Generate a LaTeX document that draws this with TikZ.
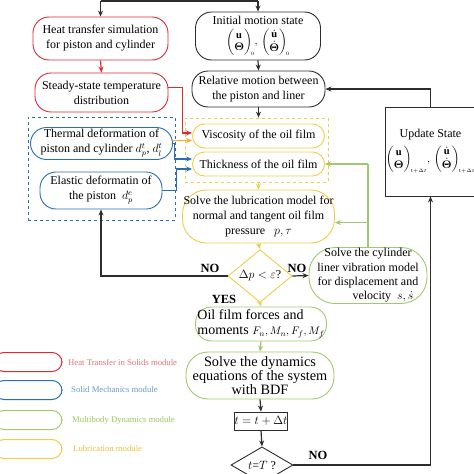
\documentclass[tikz,border=0pt]{standalone}
\usepackage{amsmath}
\usepackage{fontspec}
\setmainfont{Liberation Serif}
\usetikzlibrary{arrows.meta,shapes.geometric,calc}
\definecolor{cred}{RGB}{215,45,55}
\definecolor{cblue}{RGB}{40,110,180}
\definecolor{cgreen}{RGB}{160,200,110}
\definecolor{cyell}{RGB}{240,205,70}
\definecolor{corange}{RGB}{245,175,30}
\definecolor{cblack}{RGB}{45,45,45}
\definecolor{lred}{RGB}{232,110,120}
\definecolor{lblue}{RGB}{110,150,205}
\definecolor{lgreen}{RGB}{150,200,90}
\definecolor{lyell}{RGB}{240,190,60}
\newcommand{\stmat}[1]{{\fontsize{10.5}{12.5}\selectfont$\begin{pmatrix}\mathbf{u}\\ \boldsymbol{\Theta}\end{pmatrix}_{\!\scriptscriptstyle #1}\!,\,\begin{pmatrix}\dot{\mathbf{u}}\\ \dot{\boldsymbol{\Theta}}\end{pmatrix}_{\!\scriptscriptstyle #1}$}}
\begin{document}
\begin{tikzpicture}[x=1pt,y=-1pt,
  box/.style={draw, rounded corners=16pt, align=center, inner sep=0pt, line width=0.9pt, font=\fontsize{12}{15}\selectfont},
  rbox/.style={box, draw=cred},
  bbox/.style={box, draw=cblue},
  gbox/.style={box, draw=cgreen},
  ybox/.style={box, draw=cyell},
  kbox/.style={box, draw=cblack},
  sqbox/.style={draw=cblack, line width=0.9pt, align=center, inner sep=0pt, font=\fontsize{12}{15}\selectfont},
  dia/.style={diamond, draw, inner sep=0pt, line width=0.9pt, font=\fontsize{12}{13}\selectfont},
  arr/.style={-{Stealth[length=6pt,width=5pt]}, line width=1.2pt, draw=cblack},
  ln/.style={line width=1.2pt, draw=cblack},
  redarr/.style={arr, draw=cred},
  bluarr/.style={arr, draw=cblue},
  grnarr/.style={arr, draw=cgreen},
  yelarr/.style={arr, draw=cyell},
  orarr/.style={arr, draw=corange},
  lbl/.style={font=\bfseries\fontsize{12.5}{13}\selectfont, inner sep=0pt},
  legbox/.style={draw, rounded corners=10pt, line width=1pt, minimum width=68pt, minimum height=19pt, inner sep=0pt},
  legtxt/.style={anchor=west, inner sep=0pt, font=\fontsize{8.7}{9}\selectfont}
]
\useasboundingbox (0,0) rectangle (474,474);

% groups
\node[draw=cblue, dashed, line width=0.8pt, minimum width=147pt, minimum height=103pt, inner sep=0pt] (bgrp) at (101.5,168.5) {};
\node[draw=cyell, dashed, line width=0.8pt, minimum width=143pt, minimum height=64pt, inner sep=0pt] (ygrp) at (256.5,150) {};

% nodes
\node[rbox, minimum width=135pt, minimum height=43pt] (heat) at (100.5,38.5) {Heat transfer simulation\\for piston and cylinder};
\node[rbox, minimum width=133pt, minimum height=39pt] (steady) at (101.5,92.5) {Steady-state temperature\\distribution};
\node[bbox, minimum width=142pt, minimum height=32pt] (thermal) at (101.5,143.5) {Thermal deformation of\\piston and cylinder $d_p^t$,\ $d_l^t$};
\node[bbox, minimum width=122pt, minimum height=37pt] (elastic) at (101,190.5) {Elastic deformatin of\\the piston\ \ $d_p^e$};
\node[kbox, minimum width=125pt, minimum height=48pt] (init) at (258,36) {Initial motion state\\[3pt]\stmat{0}};
\node[kbox, minimum width=133pt, minimum height=36pt] (rel) at (258.5,89) {Relative motion between\\the piston and liner};
\node[ybox, minimum width=132pt, minimum height=24pt, rounded corners=12pt] (visc) at (258.5,136) {Viscosity of the oil film};
\node[ybox, minimum width=132pt, minimum height=24pt, rounded corners=12pt] (thick) at (258.5,164) {Thickness of the oil film};
\node[ybox, minimum width=152pt, minimum height=53pt, rounded corners=24pt] (lub) at (258.5,216.5) {Solve the lubrication model for\\normal and tangent oil film\\pressure\ \ \ $p,\tau$};
\node[dia, draw=cyell, minimum width=64pt, minimum height=35pt] (d1) at (260,276) {$\Delta p<\varepsilon$?};
\node[gbox, minimum width=118pt, minimum height=56pt, rounded corners=26pt, font=\fontsize{12}{14.3}\selectfont] (cyl) at (368,275.5) {Solve the cylinder\\liner vibration model\\for displacement and\\\hspace*{2.5em}velocity\ \ $s,\dot{s}$};
\node[gbox, minimum width=131pt, minimum height=34pt, align=left, font=\fontsize{14}{15}\selectfont] (oil) at (261,324) {Oil film forces and\\moments {\fontsize{11}{12}\selectfont$F_n, M_n, F_f, M_f$}};
\node[gbox, minimum width=148pt, minimum height=47pt, rounded corners=22pt, font=\fontsize{14.3}{12.8}\selectfont] (dyn) at (260,375.5) {Solve the dynamics\\equations of the system\\with BDF};
\node[sqbox, minimum width=52pt, minimum height=18pt] (tb) at (261,421) {$t=t+\Delta t$};
\node[dia, draw=cblack, minimum width=62pt, minimum height=36pt] (d2) at (262,465) {$t$=$T$ ?};
\node[sqbox, minimum width=81pt, minimum height=89pt] (upd) at (430.5,151.5) {Update State\\[5pt]\stmat{t+\Delta t}};

% top entry
\coordinate (tl) at (100.5,1);
\coordinate (tr) at (258,1);
\draw[ln] (tl) -- (tr);
\draw[arr] (tl) -- (heat.north);
\draw[arr] (tr) -- (init.north);

% connectors
\draw[redarr] ([yshift=5pt]steady.east) -- ++(14,0) |- ([yshift=3pt]visc.west);
\draw[redarr] (heat.south) -- (steady.north);
\draw[orarr] ([yshift=3pt]thermal.east) -- ([yshift=3pt]thermal.east -| visc.west);
\draw[bluarr] (thermal.east) -- ++(1.5,0) |- ([yshift=5pt]thick.west);
\draw[bluarr] (elastic.east) -- ++(14,0) |- ([yshift=-5pt]thick.west);
\draw[arr] (init.south) -- (rel.north);
\draw[arr] (rel.south) -- (rel.south |- ygrp.north);
\draw[yelarr] (ygrp.south -| thick.south) -- (lub.north);
\draw[yelarr] (lub.south) -- (d1.north);
\draw[arr] (d1.east) -- (cyl.west);
\draw[arr] (d1.west) -| (elastic.south);
\draw[yelarr] (d1.south) -- (oil.north);
\draw[ln, draw=cgreen] (cyl.north) -- (cyl.north |- thick.east);
\draw[grnarr] (cyl.north |- thick.east) -- (thick.east);
\draw[grnarr] ([yshift=-6pt]cyl.north |- lub.east) -- ([yshift=-6pt]lub.east);
\draw[grnarr] (oil.south) -- (dyn.north);
\draw[arr] (dyn.south) -- (tb.north);
\draw[arr] (tb.south) -- (d2.north);
\draw[arr] (d2.east) -| (upd.south);
\draw[arr] (upd.north) |- (rel.east);

% labels
\node[lbl] (no1) at (210,268) {NO};
\node[lbl] (no2) at (297,268) {NO};
\node[lbl] (yes) at (224,299) {YES};
\node[lbl] (no3) at (318,455) {NO};

% legend
\node[legbox, draw=cred] (l1) at (28,362) {};
\node[legbox, draw=cblue] (l2) at (28,390) {};
\node[legbox, draw=cgreen] (l3) at (28,420) {};
\node[legbox, draw=cyell] (l4) at (28,449) {};
\node[legtxt, text=lred] (t1) at (68,362) {Heat Transfer in Solids module};
\node[legtxt, text=lblue] (t2) at (71,390) {Solid Mechanics module};
\node[legtxt, text=lgreen] (t3) at (72,420) {Multibody Dynamics module};
\node[legtxt, text=lyell] (t4) at (73,449) {Lubrication module};
\end{tikzpicture}
\end{document}
